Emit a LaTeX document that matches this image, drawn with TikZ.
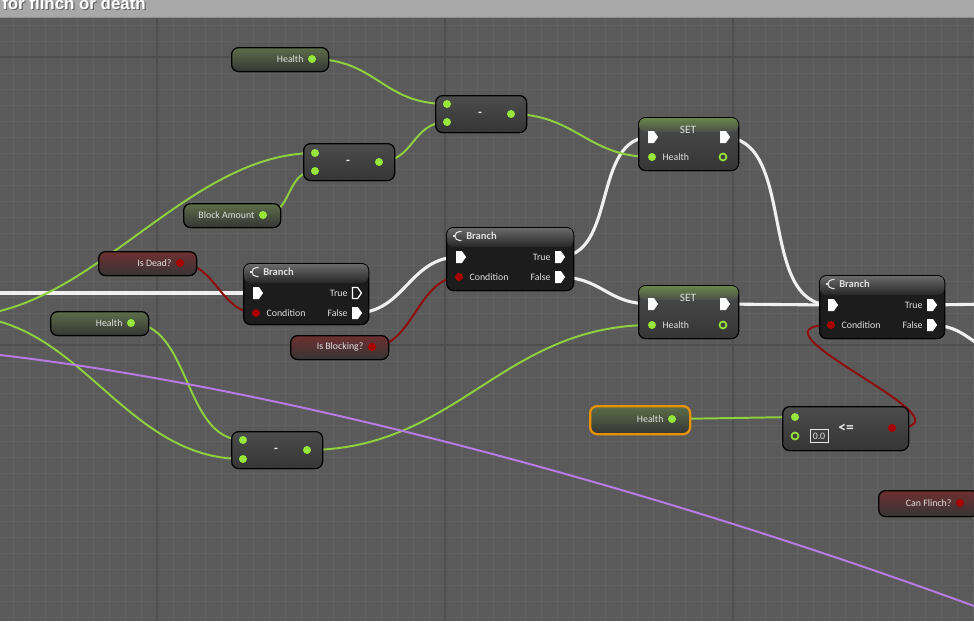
\documentclass[tikz,border=0pt]{standalone}
\usepackage{fontspec}
\setsansfont{Carlito}
\newfontfamily\barfont{Liberation Sans}
\usetikzlibrary{positioning, shapes.symbols, shadows}
\definecolor{cbg}{HTML}{5A5A5A}
\definecolor{cminor}{HTML}{616161}
\definecolor{cmajor}{HTML}{4F4F4F}
\definecolor{cbar}{HTML}{A8A8A8}
\definecolor{ctop}{HTML}{4C4C4C}
\definecolor{cbot}{HTML}{353535}
\definecolor{cdark}{HTML}{1C1C1C}
\definecolor{chead}{HTML}{6A6A6A}
\definecolor{cgreen}{HTML}{96E63C}
\definecolor{cwire}{HTML}{8ED03E}
\definecolor{cred}{HTML}{A80000}
\definecolor{credwire}{HTML}{8E0C0C}
\definecolor{cpurple}{HTML}{B87AE4}
\definecolor{ctext}{HTML}{E0E0E0}
\definecolor{corange}{HTML}{E89200}
\newcommand\pxu{0.025cm}
\pgfdeclarelayer{grid}
\pgfdeclarelayer{wires}
\pgfsetlayers{grid,wires,main}
\tikzset{
  every picture/.style={font=\sffamily},
  base/.style={draw=black, line width=0.9pt, rounded corners=5pt, anchor=north west, inner sep=0pt,
    drop shadow={opacity=0.35, shadow xshift=0.6pt, shadow yshift=-0.9pt}},
  body/.style={base, top color=ctop, bottom color=cbot},
  bodyg/.style={base, top color=cgreen!22!ctop, bottom color=cbot},
  bodyr/.style={base, top color=cred!38!ctop, bottom color=cbot},
  bodyk/.style={base, fill=cdark},
  wh/.style 2 args={minimum width=#1*\pxu, minimum height=#2*\pxu},
  hdr/.style={top color=chead, bottom color=black!85, rounded corners=4pt},
  glow/.style={top color=cgreen!38!ctop, bottom color=ctop, rounded corners=4pt},
  gdot/.style={circle, fill=cgreen, inner sep=0pt, minimum size=8*\pxu},
  rdot/.style={circle, fill=cred, inner sep=0pt, minimum size=8*\pxu},
  gring/.style={circle, draw=cgreen, fill=black!75, line width=1.2pt, inner sep=0pt, minimum size=7*\pxu},
  xpin/.style={signal, signal to=east, signal pointer angle=110, fill=white, inner sep=0pt,
    minimum width=10*\pxu, minimum height=12*\pxu},
  xring/.style={xpin, fill=cdark, draw=white, line width=0.9pt, minimum width=9*\pxu, minimum height=11*\pxu},
  lbl/.style={text=ctext, font=\sffamily\fontsize{7}{8}\selectfont, inner sep=0pt},
  ttl/.style={text=ctext, font=\sffamily\bfseries\fontsize{7.5}{9}\selectfont, inner sep=0pt, anchor=west},
  settl/.style={text=ctext, font=\sffamily\fontsize{8}{9}\selectfont, inner sep=0pt},
  op/.style={text=ctext!75, font=\sffamily\bfseries\fontsize{9}{9}\selectfont, inner sep=0pt},
  bartext/.style={anchor=base west, inner sep=0pt, text=white, font=\barfont\bfseries\fontsize{12}{14}\selectfont},
  gridminor/.style={draw=cminor, line width=0.5pt},
  gridmajor/.style={draw=cmajor, line width=0.8pt},
  exwire/.style={draw=white!94!black, line width=2.2pt},
  gwire/.style={draw=cwire, line width=1.4pt},
  rwire/.style={draw=credwire, line width=1.4pt},
  pwire/.style={draw=cpurple, line width=1.4pt},
  bricon/.pic={
    \draw[ctext, line width=0.8pt] (3.5,-4.5) -- (1.5,-4.5) arc[start angle=90, end angle=270, radius=4.5*\pxu] -- (3.5,4.5);
    \draw[ctext, line width=0.8pt] (-5.5,0) -- (-3,0);
  },
}

\begin{document}
\begin{tikzpicture}[x=0.025cm, y=-0.025cm]
  \useasboundingbox (0,0) rectangle (974,621);
  % graph background and title bar
  \begin{pgfonlayer}{grid}
    \fill[cbg] (0,0) rectangle (974,621);
    \foreach \x in {13,29,...,973} \draw[gridminor] (\x,17) -- (\x,621);
    \foreach \y in {25,41,...,617} \draw[gridminor] (0,\y) -- (974,\y);
    \foreach \x in {157,445,733} \draw[gridmajor] (\x,17) -- (\x,621);
    \foreach \y in {57,345} \draw[gridmajor] (0,\y) -- (974,\y);
    \fill[cbar] (0,0) rectangle (974,17);
    \draw[black!45, line width=0.6pt] (0,17.3) -- (974,17.3);
    \node[bartext, text=black!60] (bar-s) at (3.2,10.2) {for flinch or death};
    \node[bartext] (bar) at (2,9) {for flinch or death};
  \end{pgfonlayer}

  % getters
  \node[bodyg, wh={97}{24}] (hpA) at (231,47) {};
  \node[gdot] (hpA-o) at (312,59) {};
  \node[lbl, left=0.1cm of hpA-o] (hpA-l) {Health};

  \node[bodyg, wh={97}{24}] (blk) at (183,203) {};
  \node[gdot] (blk-o) at (263,215) {};
  \node[lbl, left=0.1cm of blk-o] (blk-l) {Block Amount};

  \node[bodyr, wh={98}{24}] (dead) at (98,251) {};
  \node[rdot] (dead-o) at (180,263) {};
  \node[lbl, left=0.1cm of dead-o] (dead-l) {Is Dead?};

  \node[bodyg, wh={98}{24}] (hpB) at (50,311) {};
  \node[gdot] (hpB-o) at (131,323) {};
  \node[lbl, left=0.1cm of hpB-o] (hpB-l) {Health};

  \node[bodyr, wh={98}{24}] (blocking) at (290,335) {};
  \node[rdot] (blocking-o) at (372,347) {};
  \node[lbl, left=0.1cm of blocking-o] (blocking-l) {Is Blocking?};

  \node[bodyg, wh={100}{28}, draw=corange, line width=1.6pt] (hpC) at (589,405) {};
  \node[gdot] (hpC-o) at (672,419) {};
  \node[lbl, left=0.1cm of hpC-o] (hpC-l) {Health};

  \node[bodyr, wh={100}{26}] (flinch) at (878,490) {};
  \node[rdot] (flinch-o) at (960,503) {};
  \node[lbl, left=0.1cm of flinch-o] (flinch-l) {Can Flinch?};

  % subtract nodes
  \node[body, wh={91}{37}] (subA) at (435,95) {};
  \node[gdot] (subA-i1) at (447,104) {};
  \node[gdot] (subA-i2) at (447,122) {};
  \node[gdot] (subA-o) at (511,114) {};
  \node[op] (subA-l) at (480,114) {-};

  \node[body, wh={91}{37}] (subB) at (303,143) {};
  \node[gdot] (subB-i1) at (315,153) {};
  \node[gdot] (subB-i2) at (315,171) {};
  \node[gdot] (subB-o) at (379,162) {};
  \node[op] (subB-l) at (348,162) {-};

  \node[body, wh={91}{37}] (subC) at (231,431) {};
  \node[gdot] (subC-i1) at (243,440) {};
  \node[gdot] (subC-i2) at (243,459) {};
  \node[gdot] (subC-o) at (307,450) {};
  \node[op] (subC-l) at (276,450) {-};

  % compare
  \node[body, wh={126}{44}] (le) at (782,406) {};
  \node[gdot] (le-i1) at (795,417) {};
  \node[gring] (le-i2) at (795,436) {};
  \node[lbl, draw=ctext!80, line width=0.5pt, wh={18}{13}] (le-v) at (819,436) {0.0};
  \node[op, font=\sffamily\bfseries\fontsize{11}{11}\selectfont] (le-l) at (846,428) {<=};
  \node[rdot] (le-o) at (892,428) {};

  % branches
  \node[bodyk, wh={125}{61}] (brA) at (243,263) {};
  \shade[hdr] ([shift={(1,1)}]brA.north west) rectangle ([shift={(-1,20)}]brA.north east);
  \pic (brA-ic) at (255,272) {bricon};
  \node[ttl] (brA-l) at (263,272) {Branch};
  \node[xpin] (brA-x) at (256,293) {};
  \node[rdot] (brA-c) at (256,313) {};
  \node[xring] (brA-t) at (355,293) {};
  \node[xpin] (brA-f) at (355,313) {};
  \node[lbl, right=0.15cm of brA-c] (brA-cl) {Condition};
  \node[lbl, left=0.1cm of brA-t] (brA-tl) {True};
  \node[lbl, left=0.1cm of brA-f] (brA-fl) {False};

  \node[bodyk, wh={127}{63}] (brB) at (446,227) {};
  \shade[hdr] ([shift={(1,1)}]brB.north west) rectangle ([shift={(-1,20)}]brB.north east);
  \pic (brB-ic) at (458,236) {bricon};
  \node[ttl] (brB-l) at (466,236) {Branch};
  \node[xpin] (brB-x) at (459,257) {};
  \node[rdot] (brB-c) at (459,277) {};
  \node[xpin] (brB-t) at (558,257) {};
  \node[xpin] (brB-f) at (558,277) {};
  \node[lbl, right=0.15cm of brB-c] (brB-cl) {Condition};
  \node[lbl, left=0.1cm of brB-t] (brB-tl) {True};
  \node[lbl, left=0.1cm of brB-f] (brB-fl) {False};

  \node[bodyk, wh={125}{63}] (brC) at (819,275) {};
  \shade[hdr] ([shift={(1,1)}]brC.north west) rectangle ([shift={(-1,20)}]brC.north east);
  \pic (brC-ic) at (831,284) {bricon};
  \node[ttl] (brC-l) at (839,284) {Branch};
  \node[xpin] (brC-x) at (831,305) {};
  \node[rdot] (brC-c) at (831,325) {};
  \node[xpin] (brC-t) at (930,305) {};
  \node[xpin] (brC-f) at (930,325) {};
  \node[lbl, right=0.15cm of brC-c] (brC-cl) {Condition};
  \node[lbl, left=0.1cm of brC-t] (brC-tl) {True};
  \node[lbl, left=0.1cm of brC-f] (brC-fl) {False};

  % setters
  \node[body, wh={100}{53}] (setA) at (638,117) {};
  \shade[glow] ([shift={(1,1)}]setA.north west) rectangle ([shift={(-1,15)}]setA.north east);
  \node[settl] (setA-l) at (688,130) {SET};
  \node[xpin] (setA-x) at (651,137) {};
  \node[gdot] (setA-h) at (652,157) {};
  \node[xpin] (setA-o) at (723,137) {};
  \node[gring] (setA-r) at (723,157) {};
  \node[lbl, right=0.15cm of setA-h] (setA-hl) {Health};

  \node[body, wh={100}{53}] (setB) at (638,285) {};
  \shade[glow] ([shift={(1,1)}]setB.north west) rectangle ([shift={(-1,15)}]setB.north east);
  \node[settl] (setB-l) at (688,298) {SET};
  \node[xpin] (setB-x) at (651,304) {};
  \node[gdot] (setB-h) at (652,325) {};
  \node[xpin] (setB-o) at (723,304) {};
  \node[gring] (setB-r) at (723,325) {};
  \node[lbl, right=0.15cm of setB-h] (setB-hl) {Health};

  % wire ends outside the view
  \coordinate (ex-in) at (-10,293);
  \coordinate (ex-t) at (990,304);
  \coordinate (ex-f) at (1010,352);
  \coordinate (lsrc) at (-40,316);
  \coordinate (psrc) at (0,355);
  \coordinate (pdst) at (974,606);

  \begin{pgfonlayer}{wires}
    % exec
    \draw[exwire] (ex-in) -- (brA-x.center);
    \draw[exwire] (brA-f.center) .. controls +(50,0) and +(-50,0) .. (brB-x.center);
    \draw[exwire] (brB-t.center) .. controls +(60,0) and +(-60,0) .. (setA-x.center);
    \draw[exwire] (brB-f.center) .. controls +(45,0) and +(-45,0) .. (setB-x.center);
    \draw[exwire] (setA-o.center) .. controls +(75,0) and +(-75,0) .. (brC-x.center);
    \draw[exwire] (setB-o.center) -- (brC-x.center);
    \draw[exwire] (brC-t.center) -- (ex-t);
    \draw[exwire] (brC-f.center) .. controls +(40,0) and +(-40,0) .. (ex-f);
    % floats
    \draw[gwire] (hpA-o.center) .. controls +(65,0) and +(-65,0) .. (subA-i1.center);
    \draw[gwire] (subB-o.center) .. controls +(35,0) and +(-35,0) .. (subA-i2.center);
    \draw[gwire] (subA-o.center) .. controls +(65,0) and +(-65,0) .. (setA-h.center);
    \draw[gwire] (lsrc) .. controls +(130,0) and +(-130,0) .. (subB-i1.center);
    \draw[gwire] (blk-o.center) .. controls +(30,0) and +(-30,0) .. (subB-i2.center);
    \draw[gwire] (lsrc) .. controls +(120,0) and +(-120,0) .. (subC-i2.center);
    \draw[gwire] (hpB-o.center) .. controls +(60,0) and +(-60,0) .. (subC-i1.center);
    \draw[gwire] (subC-o.center) .. controls +(150,0) and +(-150,0) .. (setB-h.center);
    \draw[gwire] (hpC-o.center) -- (le-i1.center);
    % bools
    \draw[rwire] (dead-o.center) .. controls +(35,0) and +(-35,0) .. (brA-c.center);
    \draw[rwire] (blocking-o.center) .. controls +(40,0) and +(-40,0) .. (brB-c.center);
    \draw[rwire] (le-o.center) .. controls +(100,0) and +(-100,0) .. (brC-c.center);
    % passing through
    \draw[pwire] (psrc) .. controls (300,390) and (680,498) .. (pdst);
  \end{pgfonlayer}
\end{tikzpicture}
\end{document}
